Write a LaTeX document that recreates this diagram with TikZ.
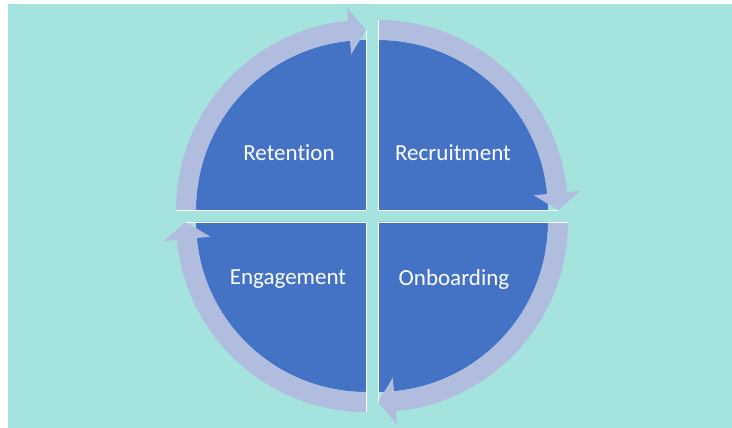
\documentclass[tikz,border=0pt]{standalone}
\usepackage{fontspec}
\setmainfont{Carlito}[Ligatures=NoCommon]
\definecolor{bgteal}{HTML}{A5E3DE}
\definecolor{qblue}{HTML}{4472C4}
\definecolor{qband}{HTML}{B0BDDF}
\tikzset{
  quarter/.style={fill=qblue},
  bandarrow/.style={fill=qband},
  edgeline/.style={draw=white, line width=0.9pt},
  label/.style={text=white, font=\fontsize{23}{28}\selectfont, inner sep=0pt}
}
\newcommand{\cyclequarter}[3]{%
  % #1 = corner, #2 = start angle, #3 = end angle (= #2 - 90)
  \begin{scope}[shift={#1}]
    \pgfmathsetmacro{\baseang}{#3+5.4}
    \fill[quarter] (0,0) -- (#2:170) arc[start angle=#2, end angle=#3, radius=170] -- cycle;
    \fill[bandarrow] (#2:190) arc[start angle=#2, end angle=\baseang, radius=190]
      -- (\baseang:203.5) -- (#3:180) -- (\baseang:156.5) -- (\baseang:170)
      arc[start angle=\baseang, end angle=#2, radius=170] -- cycle;
    \draw[edgeline] (0,0) -- (#2:190);
    \draw[edgeline] (0,0) -- (#3:180);
  \end{scope}}
\begin{document}
\begin{tikzpicture}[x=1pt,y=1pt]
  \useasboundingbox (0,0) rectangle (732,428);
  \fill[white] (0,0) rectangle (732,428);
  \fill[bgteal] (7.5,0) rectangle (732,424);
  \cyclequarter{(378,218)}{90}{0}
  \cyclequarter{(366,218)}{180}{90}
  \cyclequarter{(366,206)}{270}{180}
  \cyclequarter{(378,206)}{360}{270}
  \node[label] (ret) at (289,275) {Retention};
  \node[label] (rec) at (453,275) {Recruitment};
  \node[label] (eng) at (288,149) {Engagement};
  \node[label] (onb) at (454,149) {Onboarding};
\end{tikzpicture}
\end{document}
